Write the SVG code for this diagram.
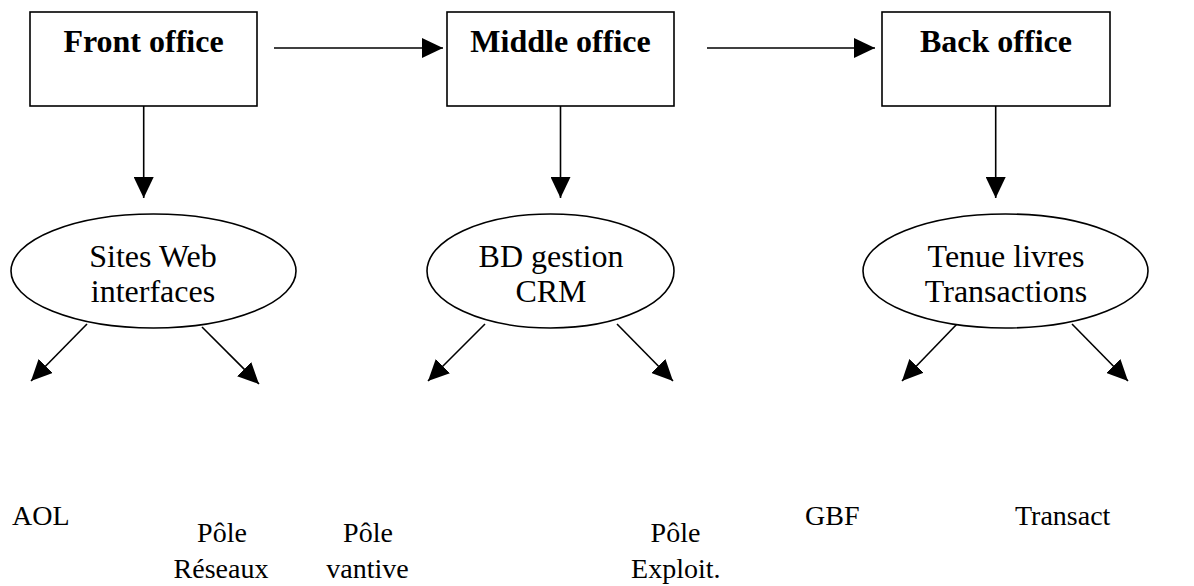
<svg xmlns="http://www.w3.org/2000/svg" width="1194" height="586" viewBox="0 0 1194 586">
  <defs>
    <marker id="arrow" markerUnits="userSpaceOnUse" markerWidth="21" markerHeight="20" refX="21" refY="10" orient="auto">
      <path d="M0,0 L21,10 L0,20 z" fill="#000"/>
    </marker>
    <style>
      .box { fill: #fff; stroke: #000; stroke-width: 1.6; }
      .oval { fill: #fff; stroke: #000; stroke-width: 1.6; }
      .edge { stroke: #000; stroke-width: 1.6; fill: none; marker-end: url(#arrow); }
      .title { font-family: "Liberation Serif", "Times New Roman", serif; font-weight: bold; font-size: 32px; text-anchor: middle; fill: #000; }
      .label { font-family: "Liberation Serif", "Times New Roman", serif; font-size: 32px; text-anchor: middle; fill: #000; }
      .leaf { font-family: "Liberation Serif", "Times New Roman", serif; font-size: 28px; text-anchor: middle; fill: #000; }
      .plain { font-family: "Liberation Serif", "Times New Roman", serif; font-size: 28px; fill: #000; }
    </style>
  </defs>
  <rect width="1194" height="586" fill="#fff"/>

  <!-- connectors -->
  <g id="connectors">
    <line class="edge" x1="274" y1="48" x2="443" y2="48"/>
    <line class="edge" x1="707" y1="48" x2="875" y2="48"/>
    <line class="edge" x1="143.7" y1="106" x2="143.7" y2="198"/>
    <line class="edge" x1="560.5" y1="106" x2="560.5" y2="198"/>
    <line class="edge" x1="995.7" y1="106" x2="995.7" y2="198"/>
    <line class="edge" x1="87" y1="324" x2="31" y2="381"/>
    <line class="edge" x1="202" y1="327" x2="259" y2="384"/>
    <line class="edge" x1="485" y1="324" x2="428" y2="381"/>
    <line class="edge" x1="617" y1="324" x2="673" y2="381"/>
    <line class="edge" x1="957" y1="324" x2="902" y2="381"/>
    <line class="edge" x1="1072" y1="324" x2="1128" y2="381"/>
  </g>

  <!-- office boxes -->
  <g id="front-office">
    <rect class="box" x="30" y="12" width="227" height="94"/>
    <text class="title" x="143.5" y="52">Front office</text>
  </g>
  <g id="middle-office">
    <rect class="box" x="447" y="12" width="227" height="94"/>
    <text class="title" x="560.5" y="52">Middle office</text>
  </g>
  <g id="back-office">
    <rect class="box" x="882" y="12" width="228" height="94"/>
    <text class="title" x="996" y="52">Back office</text>
  </g>

  <!-- system ovals -->
  <g id="sites-web">
    <ellipse class="oval" cx="153.5" cy="271" rx="142.5" ry="57"/>
    <text class="label" x="153" y="267">Sites Web</text>
    <text class="label" x="153" y="302">interfaces</text>
  </g>
  <g id="bd-gestion">
    <ellipse class="oval" cx="550.5" cy="271" rx="123.5" ry="57"/>
    <text class="label" x="551" y="267">BD gestion</text>
    <text class="label" x="551" y="302">CRM</text>
  </g>
  <g id="tenue-livres">
    <ellipse class="oval" cx="1005.5" cy="271" rx="142.5" ry="57"/>
    <text class="label" x="1006" y="267">Tenue livres</text>
    <text class="label" x="1006" y="302">Transactions</text>
  </g>

  <!-- leaf labels -->
  <g id="aol"><text class="plain" x="12" y="525">AOL</text></g>
  <g id="pole-reseaux">
    <text class="leaf" x="222" y="542">Pôle</text>
    <text class="leaf" x="221" y="578">Réseaux</text>
  </g>
  <g id="pole-vantive">
    <text class="leaf" x="368" y="542">Pôle</text>
    <text class="leaf" x="367.5" y="578">vantive</text>
  </g>
  <g id="pole-exploit">
    <text class="leaf" x="675.5" y="542">Pôle</text>
    <text class="leaf" x="675.8" y="578">Exploit.</text>
  </g>
  <g id="gbf"><text class="plain" x="805" y="525">GBF</text></g>
  <g id="transact"><text class="plain" x="1015" y="525">Transact</text></g>
</svg>
